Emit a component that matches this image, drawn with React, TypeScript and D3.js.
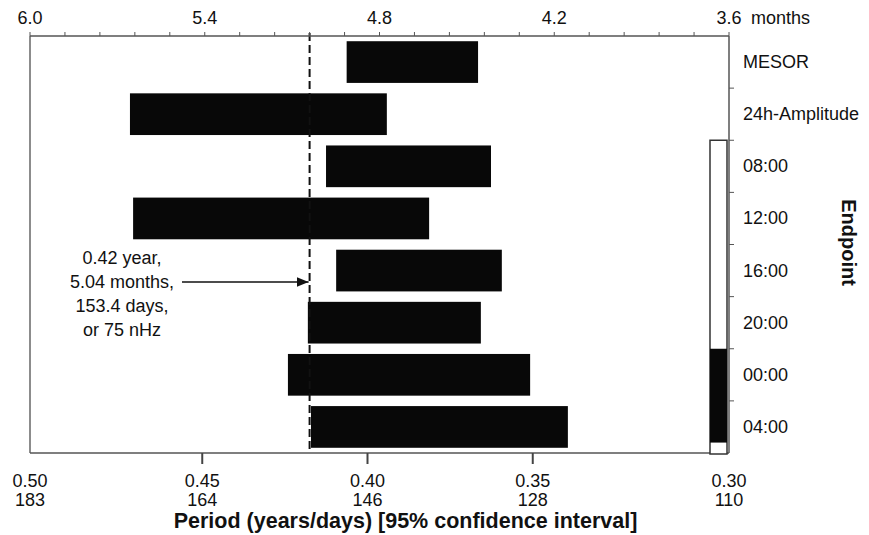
import React from "react";
import * as d3 from "d3";

const endpoints = ["MESOR", "24h-Amplitude", "08:00", "12:00", "16:00", "20:00", "00:00", "04:00"];
const lowerPeriod = [0.4094, 0.4714, 0.4153, 0.4705, 0.4124, 0.4205, 0.4262, 0.4196];
const upperPeriod = [0.3718, 0.3979, 0.3681, 0.3858, 0.365, 0.371, 0.3569, 0.3461];
const periodTicks = [0.5, 0.45, 0.4, 0.35, 0.3];
const periodLabels = ["0.50", "0.45", "0.40", "0.35", "0.30"];
const dayLabels = ["183", "164", "146", "128", "110"];
const monthTicks = [6.0, 5.4, 4.8, 4.2, 3.6];
const monthMinorStep = 0.12;
const markedPeriodYears = 0.42;
const annotationLines = ["0.42 year,", "5.04 months,", "153.4 days,", "or 75 nHz"];
const clockDomain = [6, 30];
const darkHours = [22, 29.2];

const W = 869;
const H = 535;
const X0 = 30;
const X1 = 729;
const Y0 = 36;
const Y1 = 453;
const FONT = "'Liberation Sans', Arial, sans-serif";

export default function App() {
  const xMonths = d3.scaleLinear().domain([6.0, 3.6]).range([X0, X1]);
  const xYears = d3.scaleLinear().domain([0.5, 0.3]).range([X0, X1]);
  const xBottom = d3.scaleLinear().domain([0.5, 0.3]).range([X0 + 7, X1 - 31]);
  const rows = d3.scaleBand<string>().domain(endpoints).range([Y0, Y1]).padding(0);
  const step = rows.step();
  const clockY = d3.scaleLinear().domain(clockDomain).range([rows("08:00") as number, Y1]);

  const minorTicks = d3.range(3.6, 6.0001, monthMinorStep);
  const xMark = xYears(markedPeriodYears);
  const ldX = X1 - 19;
  const ldW = 17;

  return (
    <svg width={W} height={H} style={{ position: "absolute", left: 0, top: 0, background: "#fff" }} fontFamily={FONT}>
      <defs>
        <marker id="arr" viewBox="0 0 10 10" refX="10" refY="5" markerWidth="8" markerHeight="8" orient="auto">
          <path d="M0,1 L10,5 L0,9 Z" fill="#111" />
        </marker>
      </defs>
      <rect x={0} y={0} width={W} height={H} fill="#fff" />

      {endpoints.map((e, i) => {
        const a = xYears(lowerPeriod[i]);
        const b = xYears(upperPeriod[i]);
        return (
          <rect key={e} x={a} y={(rows(e) as number) + step * 0.1} width={b - a} height={step * 0.8} fill="#080808" />
        );
      })}

      <line x1={xMark} x2={xMark} y1={Y0 - 3} y2={Y1} stroke="#111" strokeWidth={2} strokeDasharray="8,4" />

      <line x1={X0} x2={X0} y1={Y0} y2={Y1} stroke="#666" strokeWidth={1.5} />
      <line x1={X1} x2={X1} y1={Y0} y2={Y1} stroke="#555" strokeWidth={1.5} />
      <line x1={X0} x2={X1} y1={Y0} y2={Y0} stroke="#555" strokeWidth={1.5} />
      <line x1={X0} x2={X1} y1={Y1} y2={Y1} stroke="#555" strokeWidth={1.5} />

      {minorTicks.map((m, i) => (
        <line key={i} x1={xMonths(m)} x2={xMonths(m)} y1={Y0 - 4} y2={Y0} stroke="#555" strokeWidth={1} />
      ))}
      {monthTicks.map((m) => (
        <text key={m} x={xMonths(m)} y={24} textAnchor="middle" fontSize={18} fill="#111">
          {m.toFixed(1)}
        </text>
      ))}
      <text x={xMonths(3.6) + 22} y={24} fontSize={18} fill="#111">months</text>

      {periodTicks.map((p, i) => {
        const edge = i === 0 || i === periodTicks.length - 1;
        const x = edge ? (i === 0 ? X0 : X1) : xBottom(p);
        return (
          <g key={p}>
            {!edge && <line x1={x} x2={x} y1={Y1} y2={Y1 + 11} stroke="#444" strokeWidth={2} />}
            <text x={x} y={487} textAnchor="middle" fontSize={18} fill="#111">{periodLabels[i]}</text>
            <text x={x} y={506} textAnchor="middle" fontSize={18} fill="#111">{dayLabels[i]}</text>
          </g>
        );
      })}
      <text x={(X0 + X1) / 2 + 26} y={528} textAnchor="middle" fontSize={21.5} fontWeight="bold" fill="#111">
        Period (years/days) [95% confidence interval]
      </text>

      {endpoints.slice(1).map((e) => (
        <line key={e} x1={X1} x2={X1 + 5} y1={rows(e) as number} y2={rows(e) as number} stroke="#555" strokeWidth={1} />
      ))}
      {endpoints.map((e) => (
        <text key={e} x={743} y={(rows(e) as number) + step / 2 + 6} fontSize={18} fill="#111">{e}</text>
      ))}
      <text transform={`translate(842,${(Y0 + Y1) / 2 - 2}) rotate(90)`} textAnchor="middle" fontSize={20} fontWeight="bold" fill="#111">
        Endpoint
      </text>

      <rect x={ldX} y={clockY(clockDomain[0])} width={ldW} height={clockY(clockDomain[1]) - clockY(clockDomain[0]) + 1} fill="#fff" stroke="#333" strokeWidth={1.5} />
      <rect x={ldX} y={clockY(darkHours[0])} width={ldW} height={clockY(darkHours[1]) - clockY(darkHours[0])} fill="#080808" />

      {annotationLines.map((t, i) => (
        <text key={t} x={122} y={264 + i * 24} textAnchor="middle" fontSize={18} fill="#111">{t}</text>
      ))}
      <line x1={182} x2={xMark - 1} y1={282} y2={282} stroke="#111" strokeWidth={1.5} markerEnd="url(#arr)" />
    </svg>
  );
}
